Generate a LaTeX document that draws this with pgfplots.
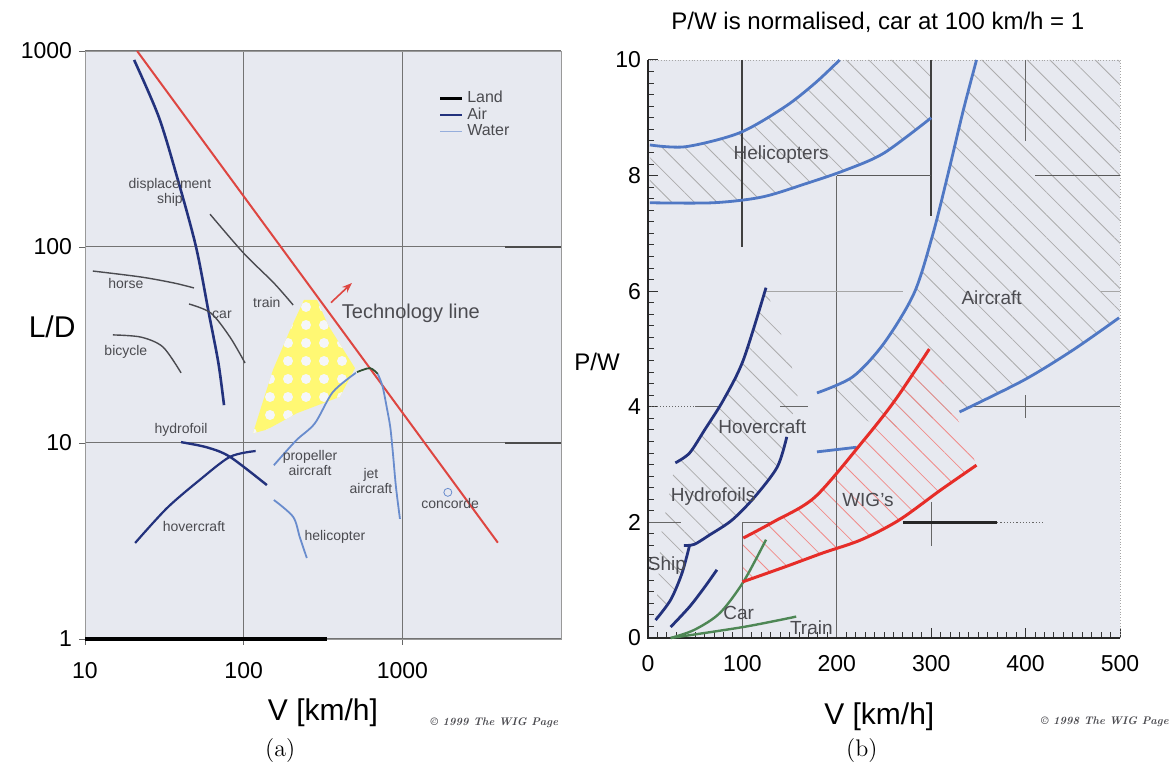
\documentclass[border=0pt]{standalone}
\usepackage{fontspec}
\setsansfont{Liberation Sans}
\renewcommand{\familydefault}{\sfdefault}
\usepackage{pgfplots}
\pgfplotsset{compat=1.18}
\usetikzlibrary{patterns.meta,arrows.meta}
\definecolor{bg}{RGB}{231,233,240}
\definecolor{navy}{RGB}{35,50,125}
\definecolor{mblue}{RGB}{80,120,196}
\definecolor{lblue}{RGB}{105,140,205}
\definecolor{wred}{RGB}{230,45,40}
\definecolor{tred}{RGB}{222,70,65}
\definecolor{wgreen}{RGB}{78,135,85}
\definecolor{dgray}{RGB}{75,75,80}
\pgfplotsset{/pgf/number format/assume math mode=true}
\begin{document}
\begin{tikzpicture}[x=1pt,y=1pt]
\useasboundingbox (0,0) rectangle (587.5,387.5);
% ---------------- (a) ----------------
\begin{axis}[
  at={(42.5pt,68pt)}, anchor=south west,
  width=238pt, height=294pt, scale only axis,
  xmode=log, ymode=log,
  xmin=10, xmax=10000, ymin=1, ymax=1000,
  xtick={10,100,1000}, xticklabels={10,100,1000},
  ytick={1,10,100,1000}, yticklabels={1,10,100,1000},
  xminorticks=false, yminorticks=false,
  grid=major, grid style={draw=black!55, line width=0.5pt},
  axis background/.style={fill=bg},
  axis line style={draw=black!40},
  tick style={draw=black!60},
  major tick length=3pt, tick align=outside, tick pos=left,
  ticklabel style={font=\fontsize{11.5}{12}\selectfont},
  xticklabel style={yshift=-5pt},
  xlabel={V [km/h]},
  xlabel style={at={(axis description cs:0.5,-0.126)}, anchor=center, font=\fontsize{15}{16}\selectfont},
  ylabel={L/D},
  ylabel style={rotate=-90, at={(axis description cs:-0.069,0.531)}, anchor=center, font=\fontsize{15}{16}\selectfont},
  clip=false,
  legend style={at={(0.73,0.946)}, anchor=north west, draw=none, fill=none,
    font=\fontsize{8}{8}\selectfont, row sep=-3pt, text=dgray},
  legend cell align=left,
  legend image code/.code={\draw[#1] (0pt,0pt) -- (11pt,0pt);},
]
\addlegendimage{black, line width=1.2pt}\addlegendentry{Land}
\addlegendimage{navy, line width=0.8pt}\addlegendentry{Air}
\addlegendimage{lblue!70, line width=0.6pt}\addlegendentry{Water}
% yellow region
\addplot[forget plot, fill=yellow!55, draw=none] coordinates {
 (114.5,11.2) (127,14.7) (153,23.6) (196,37.7) (240,53.7) (290,53.7) (340,40) (503,24.1) (404,17.2) (217,14.2) (140,11.7)} -- cycle;
\addplot[forget plot, pattern={Dots[radius=2.5pt,distance=9pt]}, pattern color=bg!40!white, draw=none] coordinates {
 (114.5,11.2) (127,14.7) (153,23.6) (196,37.7) (240,53.7) (290,53.7) (340,40) (503,24.1) (404,17.2) (217,14.2) (140,11.7)} -- cycle;
% bottom thick line
\addplot[forget plot, black, line width=2pt] coordinates {(10,1) (335,1)};
\addplot[forget plot, black!70, line width=0.8pt] coordinates {(4430,100) (10000,100)};
\addplot[forget plot, black!70, line width=0.8pt] coordinates {(4430,10) (10000,10)};
% technology line
\addplot[forget plot, tred, line width=1pt] coordinates {(21.3,1000) (4000,3.1)};
\addplot[forget plot, tred, line width=0.8pt, -{Stealth[length=5pt]}] coordinates {(355,52) (481,65.5)};
% displacement ship
\addplot[forget plot, navy, line width=1.3pt, smooth] coordinates {
 (20.4,900) (29.2,460) (38.5,220) (50.1,100) (60.3,46) (69.3,25.6) (75.2,15.6)};
% land
\addplot[forget plot, dgray, line width=0.7pt, smooth] coordinates {(61.4,147) (100,93) (155,65.5) (205,50.6)};
\addplot[forget plot, dgray, line width=0.7pt, smooth] coordinates {(11.2,75.4) (22.5,70.3) (36.4,65.5) (48.6,61.8)};
\addplot[forget plot, dgray, line width=0.7pt, smooth] coordinates {(45.2,51.2) (62.2,46) (82,34.7) (102,25.6)};
\addplot[forget plot, dgray, line width=0.7pt, smooth] coordinates {(15,35.6) (22.5,34.7) (31,30.9) (40.3,22.8)};
% water craft
\addplot[forget plot, navy, line width=1.2pt, smooth] coordinates {(40.3,10.1) (58.7,9.5) (82,8.5) (140,6.1)};
\addplot[forget plot, navy, line width=1.1pt, smooth] coordinates {(20.7,3.09) (32.9,4.66) (53.1,6.5) (82,8.5) (119,9.1)};
% air
\addplot[forget plot, lblue, line width=0.9pt, smooth] coordinates {(155,7.7) (214,10.3) (281,12.6) (365,18.2) (510,22.8)};
\addplot[forget plot, wgreen!60!black, line width=0.9pt, smooth] coordinates {(518,23) (625,24.1) (700,22.5)};
\addplot[forget plot, lblue, line width=0.9pt, smooth] coordinates {(700,22.5) (750,19.5) (800,15) (840,12) (872,8.9) (911,6) (966,4.1)};
\addplot[forget plot, lblue, line width=0.9pt, smooth] coordinates {(155,5.12) (205,4.2) (226,3.3) (250,2.59)};
\addplot[forget plot, only marks, mark=o, mark size=2pt, lblue] coordinates {(1936,5.6)};
% labels
\begin{scope}[font=\fontsize{7}{7.5}\selectfont, text=dgray]
\node[align=center] at (axis cs:34.3,191) {displacement\\ship};
\node at (axis cs:18.1,65) {horse};
\node at (axis cs:73,45) {car};
\node at (axis cs:140,52.4) {train};
\node at (axis cs:18.1,29.1) {bicycle};
\node at (axis cs:40.3,11.7) {hydrofoil};
\node at (axis cs:48.6,3.77) {hovercraft};
\node[align=center] at (axis cs:262,7.9) {propeller\\aircraft};
\node[align=center] at (axis cs:634,6.4) {jet\\aircraft};
\node at (axis cs:376,3.3) {helicopter};
\node at (axis cs:2000,4.94) {concorde};
\end{scope}
\node[font=\fontsize{10}{11}\selectfont, text=dgray] at (axis cs:1132,46) {Technology line};
\node[font=\rmfamily\fontsize{12}{13}\selectfont] at (axis description cs:0.41,-0.19) {(a)};
\node[font=\rmfamily\bfseries\itshape\fontsize{5.5}{6}\selectfont, text=dgray] at (axis description cs:0.86,-0.143) {\textcopyright{} 1999 The WIG Page};
\end{axis}
% ---------------- (b) ----------------
\begin{axis}[
  at={(324pt,68.5pt)}, anchor=south west,
  width=236pt, height=289pt, scale only axis,
  xmin=0, xmax=500, ymin=0, ymax=10,
  xtick={0,100,...,500}, ytick={0,2,...,10},
  minor x tick num=9, minor y tick num=9,
  tick align=inside, tick pos=left,
  major tick length=5pt, minor tick length=3pt,
  tick style={draw=black!80, line width=0.5pt},
  axis background/.style={fill=bg},
  axis line style={draw=black!35, densely dotted},
  ticklabel style={font=\fontsize{11.5}{12}\selectfont},
  xticklabel style={yshift=-5pt},
  xlabel={V [km/h]},
  xlabel style={at={(axis description cs:0.49,-0.137)}, anchor=center, font=\fontsize{15}{16}\selectfont},
  ylabel={P/W},
  ylabel style={rotate=-90, at={(axis description cs:-0.108,0.478)}, anchor=center, font=\fontsize{12}{13}\selectfont},
  title={P/W is normalised, car at 100 km/h = 1},
  every axis title shift=0pt,
  title style={at={(axis description cs:0.487,1.066)}, anchor=center, font=\fontsize{12}{13}\selectfont},
  clip=false,
]
% hatched regions
\addplot[pattern={Lines[angle=-45,distance=8pt,line width=0.4pt]}, pattern color=gray!65, draw=none] coordinates {
 (2,8.53) (40,8.5) (97,8.74) (145,9.19) (177,9.6) (203,10) (300,10) (300,9.0) (250,8.39) (210,8.1) (169,7.87) (121,7.63) (69,7.53) (2,7.53)} -- cycle;
\addplot[pattern={Lines[angle=-45,distance=8pt,line width=0.4pt]}, pattern color=gray!65, draw=none] coordinates {
 (179,4.24) (217,4.52) (250,5.1) (282,5.97) (302,7.0) (318,8.04) (334,9.13) (348,10) (500,10) (500,5.54) (450,4.98) (398,4.46) (330,3.91) (250,3.6)} -- cycle;
\addplot[pattern={Lines[angle=-45,distance=8pt,line width=0.4pt]}, pattern color=gray!65, draw=none] coordinates {
 (29,3.03) (44,3.2) (60,3.6) (80,4.12) (101,4.81) (125,6.06) (160,4.3) (147,3.48) (137,2.96) (113,2.44) (89,2.04) (65,1.78) (49,1.62) (38,1.6) (36,1.12) (24,0.66) (8,0.31) (14,1.8)} -- cycle;
\addplot[pattern={Lines[angle=-45,distance=8pt,line width=0.4pt]}, pattern color=wred!55, draw=none] coordinates {
 (101,1.73) (133,2.01) (177,2.44) (229,3.43) (262,4.12) (298,5.0) (348,2.99) (310,2.56) (266,2.04) (226,1.7) (185,1.47) (145,1.23) (100,0.97)} -- cycle;
% grid fragments
\addplot[black!75, line width=1pt] coordinates {(100,10) (100,6.77)};
\addplot[black!60, line width=0.6pt] coordinates {(100,2) (100,0)};
\addplot[black!60, line width=0.6pt] coordinates {(200,8) (200,0)};
\addplot[black!75, line width=1pt] coordinates {(300,10) (300,7.3)};
\addplot[black!60, line width=0.6pt] coordinates {(300,2.35) (300,1.6)};
\addplot[black!60, line width=0.8pt] coordinates {(400,10) (400,8.6)};
\addplot[black!60, line width=0.6pt] coordinates {(400,4.2) (400,3.8)};
\addplot[black!65, line width=0.6pt] coordinates {(200,8) (300,8)};
\addplot[black!65, line width=0.6pt] coordinates {(410,8) (500,8)};
\addplot[black!35, line width=0.5pt] coordinates {(125,6) (270,6)};
\addplot[black!35, line width=0.5pt] coordinates {(480,6) (500,6)};
\addplot[black!60, line width=0.5pt, densely dotted] coordinates {(0,4) (75,4)};
\addplot[black!60, line width=0.6pt] coordinates {(50,4) (75,4)};
\addplot[black!60, line width=0.6pt] coordinates {(140,4) (170,4)};
\addplot[black!60, line width=0.6pt] coordinates {(340,4) (500,4)};
\addplot[black!60, line width=0.6pt] coordinates {(0,2) (35,2)};
\addplot[black!60, line width=0.6pt] coordinates {(100,2) (135,2)};
\addplot[black!85, line width=1.3pt] coordinates {(270,2) (370,2)};
\addplot[black!60, line width=0.6pt, densely dotted] coordinates {(370,2) (420,2)};
% axis lines left/bottom
\addplot[black!85, line width=0.9pt] coordinates {(0,10) (0,0) (500,0)};
% helicopters
\addplot[mblue, line width=1.4pt, smooth] coordinates {(2,8.53) (40,8.5) (97,8.74) (145,9.19) (177,9.6) (203,10)};
\addplot[mblue, line width=1.4pt, smooth] coordinates {(2,7.53) (69,7.53) (121,7.63) (169,7.87) (210,8.1) (250,8.39) (300,9.0)};
% aircraft
\addplot[mblue, line width=1.4pt, smooth] coordinates {(179,4.24) (217,4.52) (250,5.1) (282,5.97) (302,7.0) (318,8.04) (334,9.13) (348,10)};
\addplot[mblue, line width=1.4pt, smooth] coordinates {(330,3.91) (398,4.46) (450,4.98) (499,5.54)};
\addplot[mblue, line width=1.4pt] coordinates {(179,3.22) (221,3.3)};
% hovercraft / hydrofoils / ship
\addplot[navy, line width=1.4pt, smooth] coordinates {(29,3.03) (44,3.2) (60,3.6) (80,4.12) (101,4.81) (125,6.06)};
\addplot[navy, line width=1.4pt, smooth] coordinates {(8,0.31) (24,0.66) (36,1.12) (44,1.6)};
\addplot[navy, line width=1.4pt, smooth] coordinates {(38,1.6) (49,1.62) (65,1.78) (89,2.04) (113,2.44) (137,2.96) (147,3.48)};
\addplot[navy, line width=1.4pt, smooth] coordinates {(24,0.19) (44,0.54) (60,0.88) (73,1.18)};
% car and train
\addplot[wgreen, line width=1.2pt, smooth] coordinates {(24,0) (49,0.14) (76,0.43) (101,0.97) (125,1.7)};
\addplot[wgreen, line width=1.2pt, smooth] coordinates {(24,0) (101,0.19) (157,0.37)};
% WIG
\addplot[wred, line width=1.5pt, smooth] coordinates {(101,1.73) (133,2.01) (177,2.44) (229,3.43) (262,4.12) (298,5.0)};
\addplot[wred, line width=1.5pt, smooth] coordinates {(100,0.97) (145,1.23) (185,1.47) (226,1.7) (266,2.04) (310,2.56) (348,2.99)};
% labels
\begin{scope}[font=\fontsize{9.5}{10}\selectfont, text=dgray]
\node at (axis cs:141,8.36) {Helicopters};
\node at (axis cs:364,5.88) {Aircraft};
\node at (axis cs:121,3.65) {Hovercraft};
\node at (axis cs:69,2.44) {Hydrofoils};
\node at (axis cs:20,1.26) {Ship};
\node at (axis cs:233,2.39) {WIG's};
\node at (axis cs:96,0.43) {Car};
\node at (axis cs:173,0.17) {Train};
\end{scope}
\node[font=\rmfamily\fontsize{12}{13}\selectfont] at (axis description cs:0.453,-0.195) {(b)};
\node[font=\rmfamily\bfseries\itshape\fontsize{5.5}{6}\selectfont, text=dgray] at (axis description cs:0.968,-0.145) {\textcopyright{} 1998 The WIG Page};
\end{axis}
\end{tikzpicture}
\end{document}
